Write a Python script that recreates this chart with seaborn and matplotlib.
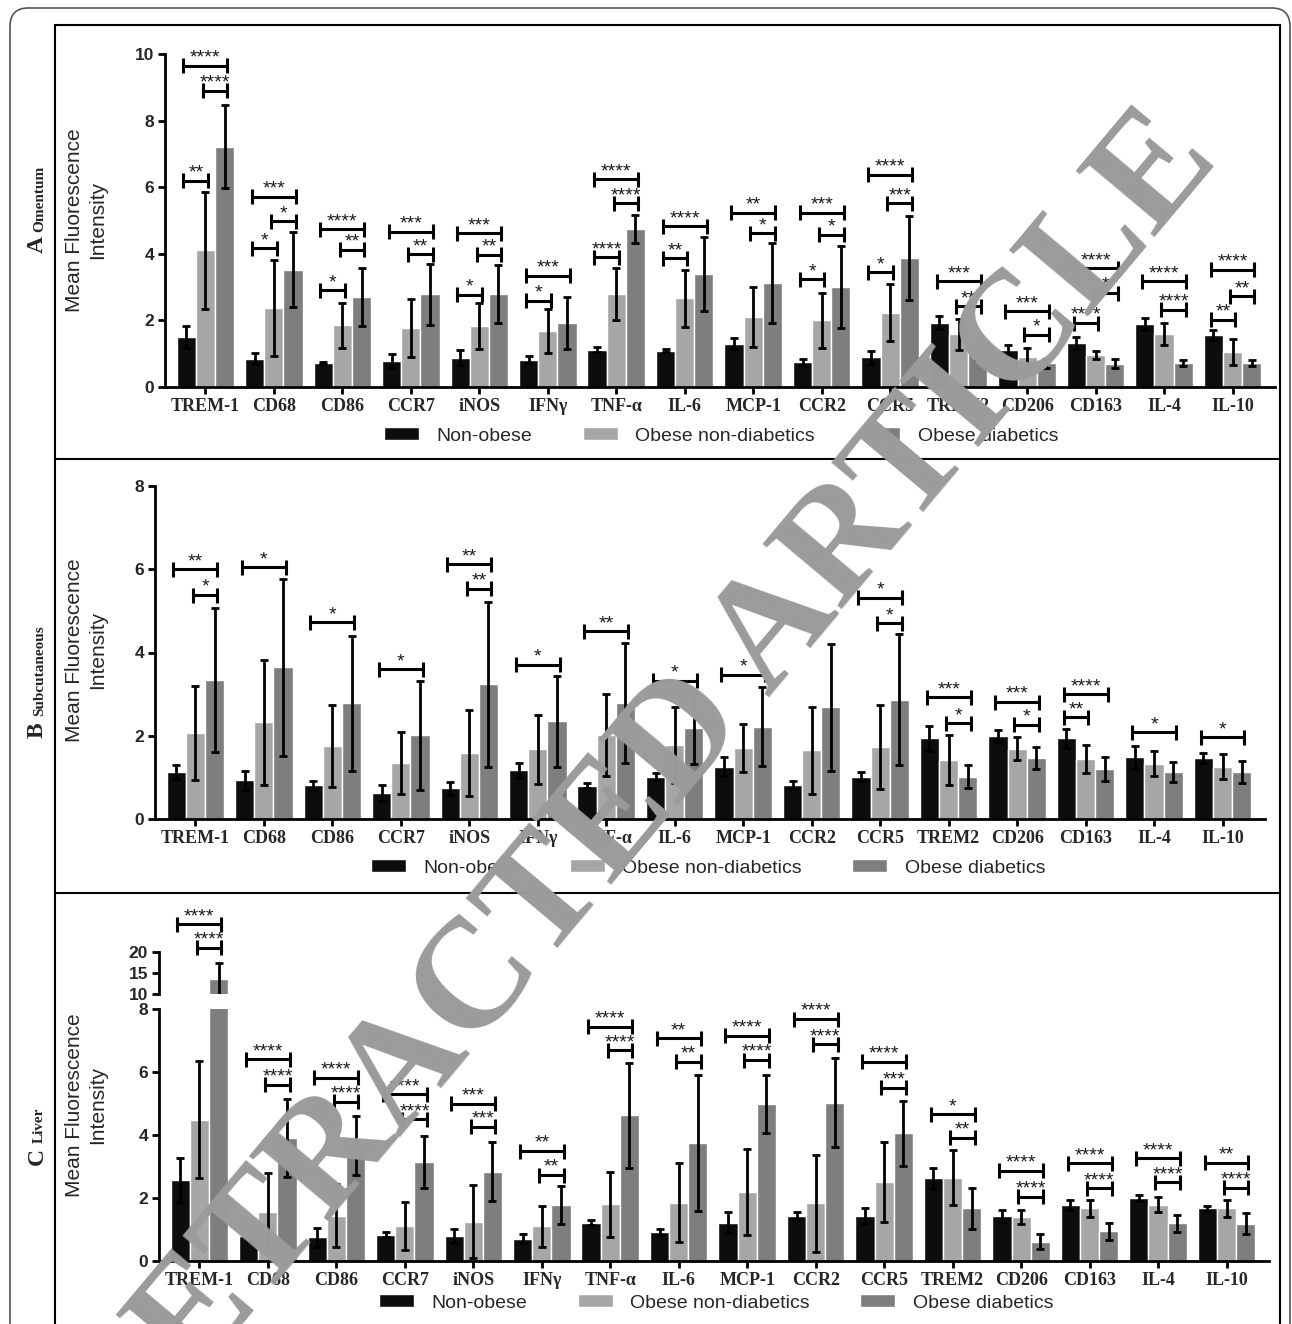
import numpy as np
import pandas as pd
import matplotlib
matplotlib.use("Agg")
import matplotlib.pyplot as plt
import seaborn as sns
from matplotlib.lines import Line2D
from matplotlib.patches import FancyBboxPatch
from matplotlib import font_manager

# ---------------- data ----------------
markers = ["TREM-1", "CD68", "CD86", "CCR7", "iNOS", "IFNγ", "TNF-α", "IL-6",
           "MCP-1", "CCR2", "CCR5", "TREM2", "CD206", "CD163", "IL-4", "IL-10"]
groups = ["Non-obese", "Obese non-diabetics", "Obese diabetics"]

# A  Omentum
om_non = [1.50, 0.85, 0.72, 0.78, 0.88, 0.82, 1.12, 1.09, 1.30, 0.74, 0.89, 1.93, 1.10, 1.32, 1.89, 1.55]
om_non_err = [0.32, 0.17, 0.04, 0.20, 0.22, 0.10, 0.07, 0.05, 0.17, 0.10, 0.19, 0.19, 0.15, 0.17, 0.18, 0.15]
om_ond = [4.10, 2.37, 1.85, 1.78, 1.83, 1.68, 2.78, 2.66, 2.10, 2.00, 2.23, 1.58, 0.90, 0.97, 1.60, 1.05]
om_ond_err = [1.75, 1.43, 0.67, 0.87, 0.70, 0.65, 0.78, 0.85, 0.90, 0.83, 0.86, 0.46, 0.28, 0.12, 0.33, 0.40]
om_od = [7.22, 3.52, 2.70, 2.78, 2.80, 1.92, 4.75, 3.39, 3.11, 3.00, 3.88, 1.14, 0.71, 0.70, 0.72, 0.72]
om_od_err = [1.25, 1.13, 0.88, 0.92, 0.87, 0.78, 0.43, 1.10, 1.20, 1.24, 1.26, 0.33, 0.14, 0.13, 0.10, 0.10]

# B  Subcutaneous
sc_non = [1.13, 0.93, 0.81, 0.63, 0.74, 1.17, 0.80, 1.02, 1.26, 0.82, 1.02, 1.94, 1.99, 1.94, 1.48, 1.46]
sc_non_err = [0.17, 0.23, 0.11, 0.19, 0.16, 0.18, 0.06, 0.08, 0.22, 0.09, 0.10, 0.30, 0.15, 0.23, 0.28, 0.12]
sc_ond = [2.06, 2.32, 1.76, 1.34, 1.58, 1.67, 2.02, 1.78, 1.70, 1.65, 1.74, 1.41, 1.69, 1.44, 1.33, 1.26]
sc_ond_err = [1.13, 1.50, 0.98, 0.74, 1.03, 0.84, 0.99, 0.92, 0.58, 1.04, 1.01, 0.60, 0.27, 0.34, 0.30, 0.29]
sc_od = [3.34, 3.64, 2.78, 2.01, 3.24, 2.35, 2.78, 2.18, 2.22, 2.68, 2.87, 1.02, 1.47, 1.20, 1.14, 1.13]
sc_od_err = [1.74, 2.13, 1.62, 1.31, 1.98, 1.09, 1.44, 0.86, 0.95, 1.53, 1.58, 0.27, 0.26, 0.29, 0.24, 0.26]

# C  Liver
lv_non = [2.57, 0.79, 0.75, 0.84, 0.79, 0.71, 1.22, 0.93, 1.22, 1.43, 1.43, 2.62, 1.43, 1.78, 1.99, 1.67]
lv_non_err = [0.71, 0.19, 0.30, 0.08, 0.23, 0.14, 0.08, 0.10, 0.33, 0.12, 0.24, 0.34, 0.18, 0.15, 0.10, 0.08]
lv_ond = [4.49, 1.57, 1.44, 1.11, 1.25, 1.11, 1.80, 1.85, 2.19, 1.83, 2.51, 2.65, 1.39, 1.67, 1.79, 1.67]
lv_ond_err = [1.85, 1.22, 0.99, 0.75, 1.17, 0.65, 1.04, 1.26, 1.37, 1.53, 1.27, 0.86, 0.23, 0.26, 0.24, 0.26]
lv_od = [13.6, 3.90, 3.66, 3.15, 2.84, 1.78, 4.62, 3.74, 4.99, 5.03, 4.05, 1.67, 0.61, 0.95, 1.20, 1.19]
lv_od_err = [3.9, 1.24, 0.93, 0.83, 0.94, 0.59, 1.67, 2.15, 0.93, 1.40, 1.02, 0.66, 0.24, 0.27, 0.27, 0.34]

# significance annotations: (marker, comparison, bracket height, label)
om_sig = [
    ("TREM-1", "NO-OND", 6.2, "**"), ("TREM-1", "NO-OD", 9.64, "****"), ("TREM-1", "OND-OD", 8.89, "****"),
    ("CD68", "NO-OND", 4.17, "*"), ("CD68", "NO-OD", 5.72, "***"), ("CD68", "OND-OD", 4.97, "*"),
    ("CD86", "NO-OND", 2.9, "*"), ("CD86", "NO-OD", 4.74, "****"), ("CD86", "OND-OD", 4.12, "**"),
    ("CCR7", "NO-OD", 4.66, "***"), ("CCR7", "OND-OD", 3.99, "**"),
    ("iNOS", "NO-OND", 2.77, "*"), ("iNOS", "NO-OD", 4.62, "***"), ("iNOS", "OND-OD", 3.97, "**"),
    ("IFNγ", "NO-OND", 2.59, "*"), ("IFNγ", "NO-OD", 3.34, "***"),
    ("TNF-α", "NO-OND", 3.9, "****"), ("TNF-α", "NO-OD", 6.24, "****"), ("TNF-α", "OND-OD", 5.52, "****"),
    ("IL-6", "NO-OND", 3.87, "**"), ("IL-6", "NO-OD", 4.82, "****"),
    ("MCP-1", "NO-OD", 5.24, "**"), ("MCP-1", "OND-OD", 4.62, "*"),
    ("CCR2", "NO-OND", 3.24, "*"), ("CCR2", "NO-OD", 5.24, "***"), ("CCR2", "OND-OD", 4.57, "*"),
    ("CCR5", "NO-OND", 3.44, "*"), ("CCR5", "NO-OD", 6.37, "****"), ("CCR5", "OND-OD", 5.52, "***"),
    ("TREM2", "NO-OD", 3.17, "***"), ("TREM2", "OND-OD", 2.42, "**"),
    ("CD206", "NO-OD", 2.27, "***"), ("CD206", "OND-OD", 1.57, "*"),
    ("CD163", "NO-OND", 1.92, "****"), ("CD163", "NO-OD", 3.57, "****"), ("CD163", "OND-OD", 2.82, "*"),
    ("IL-4", "NO-OD", 3.17, "****"), ("IL-4", "OND-OD", 2.32, "****"),
    ("IL-10", "NO-OND", 2.02, "**"), ("IL-10", "NO-OD", 3.52, "****"), ("IL-10", "OND-OD", 2.72, "**"),
]
sc_sig = [
    ("TREM-1", "NO-OD", 6.0, "**"), ("TREM-1", "OND-OD", 5.38, "*"),
    ("CD68", "NO-OD", 6.05, "*"),
    ("CD86", "NO-OD", 4.73, "*"),
    ("CCR7", "NO-OD", 3.6, "*"),
    ("iNOS", "NO-OD", 6.12, "**"), ("iNOS", "OND-OD", 5.53, "**"),
    ("IFNγ", "NO-OD", 3.71, "*"),
    ("TNF-α", "NO-OD", 4.51, "**"),
    ("IL-6", "NO-OD", 3.32, "*"),
    ("MCP-1", "NO-OD", 3.46, "*"),
    ("CCR5", "NO-OD", 5.32, "*"), ("CCR5", "OND-OD", 4.7, "*"),
    ("TREM2", "NO-OD", 2.92, "***"), ("TREM2", "OND-OD", 2.3, "*"),
    ("CD206", "NO-OD", 2.81, "***"), ("CD206", "OND-OD", 2.26, "*"),
    ("CD163", "NO-OND", 2.44, "**"), ("CD163", "NO-OD", 3.0, "****"),
    ("IL-4", "NO-OD", 2.08, "*"),
    ("IL-10", "NO-OD", 1.96, "*"),
]
lv_sig = [
    ("TREM-1", "NO-OD", 26.7, "****"), ("TREM-1", "OND-OD", 21.1, "****"),
    ("CD68", "NO-OD", 6.4, "****"), ("CD68", "OND-OD", 5.6, "****"),
    ("CD86", "NO-OD", 5.82, "****"), ("CD86", "OND-OD", 5.06, "****"),
    ("CCR7", "NO-OD", 5.29, "****"), ("CCR7", "OND-OD", 4.5, "****"),
    ("iNOS", "NO-OD", 5.0, "***"), ("iNOS", "OND-OD", 4.26, "***"),
    ("IFNγ", "NO-OD", 3.49, "**"), ("IFNγ", "OND-OD", 2.73, "**"),
    ("TNF-α", "NO-OD", 7.44, "****"), ("TNF-α", "OND-OD", 6.69, "****"),
    ("IL-6", "NO-OD", 7.07, "**"), ("IL-6", "OND-OD", 6.33, "**"),
    ("MCP-1", "NO-OD", 7.15, "****"), ("MCP-1", "OND-OD", 6.38, "****"),
    ("CCR2", "NO-OD", 7.68, "****"), ("CCR2", "OND-OD", 6.88, "****"),
    ("CCR5", "NO-OD", 6.33, "****"), ("CCR5", "OND-OD", 5.5, "***"),
    ("TREM2", "NO-OD", 4.66, "*"), ("TREM2", "OND-OD", 3.92, "**"),
    ("CD206", "NO-OD", 2.86, "****"), ("CD206", "OND-OD", 2.04, "****"),
    ("CD163", "NO-OD", 3.1, "****"), ("CD163", "OND-OD", 2.31, "****"),
    ("IL-4", "NO-OD", 3.26, "****"), ("IL-4", "OND-OD", 2.5, "****"),
    ("IL-10", "NO-OD", 3.12, "**"), ("IL-10", "OND-OD", 2.33, "****"),
]

# ---------------- style ----------------
sns.set_style("ticks")
plt.rcParams["font.family"] = ["Liberation Sans", "DejaVu Sans"]
plt.rcParams["axes.linewidth"] = 2
plt.rcParams["axes.edgecolor"] = "black"


def has_font(name):
    try:
        font_manager.findfont(font_manager.FontProperties(family=name), fallback_to_default=False)
        return True
    except Exception:
        return False


NARROW = "Liberation Sans Narrow" if has_font("Liberation Sans Narrow") else "Liberation Sans"
SERIF = ["Liberation Serif", "DejaVu Serif"]

W, H = 1292, 1324
fig = plt.figure(figsize=(W / 100, H / 100), dpi=100)


def rect(l, t, r, b):
    return [l / W, 1 - b / H, (r - l) / W, (b - t) / H]


palette = dict(zip(groups, ["#0d0d0d", "#a6a6a6", "#7e7e7e"]))
XLIM = (-0.59, 15.62)
pair_idx = {"NO-OND": (0, 1), "NO-OD": (0, 2), "OND-OD": (1, 2)}


def make_df(means):
    rows = []
    for g, m in zip(groups, means):
        for mk, v in zip(markers, m):
            rows.append((mk, g, v))
    return pd.DataFrame(rows, columns=["marker", "group", "value"])


def bars_with_errors(ax, means, errs):
    df = make_df(means)
    sns.barplot(data=df, x="marker", y="value", hue="group", order=markers,
                hue_order=groups, palette=palette, width=0.84, gap=0,
                errorbar=None, saturation=1, edgecolor="white", linewidth=1,
                legend=False, ax=ax)
    conts = list(ax.containers[:3])
    centers = []
    for cont, m, e in zip(conts, means, errs):
        xs = np.array([p.get_x() + p.get_width() / 2 for p in cont])
        centers.append(xs)
        ax.errorbar(xs, m, yerr=e, fmt="none", ecolor="black", elinewidth=2,
                    capsize=3, capthick=2, zorder=3)
    return conts, centers


def style_axes(ax, ylim, yticks):
    ax.set_xlim(XLIM)
    ax.set_ylim(ylim)
    ax.set_yticks(yticks)
    ax.set_xlabel("")
    ax.tick_params(width=2, length=5, color="black", pad=3)
    for lbl in ax.get_xticklabels():
        lbl.set(family=SERIF, weight="bold", size=13)
    for lbl in ax.get_yticklabels():
        lbl.set(family="Liberation Sans", weight="bold", size=12.5)


def set_ylabel(ax, ycenter_px, left_px, top_px, bottom_px):
    ax.set_ylabel("Mean Fluorescence\nIntensity", family=NARROW, size=15, linespacing=1.3)
    ax.yaxis.label.set(ha="center", va="center", rotation_mode="default")
    xf = (86 - left_px) / 1110.0
    yf = (bottom_px - ycenter_px) / (bottom_px - top_px)
    ax.yaxis.set_label_coords(xf, yf)


def draw_sig(ax, centers, sig, ylim, height_px, half_px=7.5):
    dy = half_px * (ylim[1] - ylim[0]) / height_px
    for mk, pair, y, lab in sig:
        i = markers.index(mk)
        a, b = pair_idx[pair]
        x1 = centers[a][i] - 0.04
        x2 = centers[b][i] + 0.04
        kw = dict(color="black", lw=2.2, clip_on=False, solid_capstyle="butt", zorder=4)
        ax.plot([x1, x2], [y, y], **kw)
        ax.plot([x1, x1], [y - dy, y + dy], **kw)
        ax.plot([x2, x2], [y - dy, y + dy], **kw)
        ax.annotate(lab, ((x1 + x2) / 2, y), xytext=(0, 5.5), textcoords="offset points",
                    ha="center", va="center", fontsize=14, color="#1a1a1a",
                    annotation_clip=False, zorder=4)


def legend(handles, cx, cy):
    fig.legend(handles, groups, loc="center", bbox_to_anchor=(cx / W, 1 - cy / H),
               ncol=3, frameon=False, fontsize=14, handlelength=1.8, handleheight=0.6,
               handletextpad=0.9, columnspacing=2.6)


# ---------------- Panel A ----------------
axA = fig.add_axes(rect(165, 54, 1275, 387))
contsA, cA = bars_with_errors(axA, [om_non, om_ond, om_od], [om_non_err, om_ond_err, om_od_err])
draw_sig(axA, cA, om_sig, (0, 10), 333)
sns.despine(ax=axA)
style_axes(axA, (0, 10), [0, 2, 4, 6, 8, 10])
set_ylabel(axA, 220, 165, 54, 387)
legend([c.patches[0] for c in contsA], 721, 436)

# ---------------- Panel B ----------------
axB = fig.add_axes(rect(155, 486, 1265, 819))
contsB, cB = bars_with_errors(axB, [sc_non, sc_ond, sc_od], [sc_non_err, sc_ond_err, sc_od_err])
draw_sig(axB, cB, sc_sig, (0, 8), 333)
sns.despine(ax=axB)
style_axes(axB, (0, 8), [0, 2, 4, 6, 8])
set_ylabel(axB, 650, 155, 486, 819)
legend([c.patches[0] for c in contsB], 708, 868)

# ---------------- Panel C (broken axis) ----------------
axCl = fig.add_axes(rect(159, 1009, 1269, 1261))
axCu = fig.add_axes(rect(159, 914.5, 1269, 994.3))
lv_means = [lv_non, lv_ond, lv_od]
lv_errs = [lv_non_err, lv_ond_err, lv_od_err]
contsC, cC = bars_with_errors(axCl, lv_means, lv_errs)
_, cCu = bars_with_errors(axCu, lv_means, lv_errs)
draw_sig(axCl, cC, [s for s in lv_sig if s[2] < 10], (0, 8), 252)
draw_sig(axCu, cCu, [s for s in lv_sig if s[2] >= 10], (10, 29), 80)
sns.despine(ax=axCl)
style_axes(axCl, (0, 8), [0, 2, 4, 6, 8])
set_ylabel(axCl, 1105, 159, 1009, 1261)
sns.despine(ax=axCu, bottom=True)
style_axes(axCu, (10, 29), [10, 15, 20])
axCu.spines["left"].set_bounds(10, 20)
axCu.tick_params(axis="x", bottom=False, labelbottom=False)
axCu.set_ylabel("")
legend([c.patches[0] for c in contsC], 716, 1303)

# ---------------- frame ----------------
fig.add_artist(FancyBboxPatch((10 / W, 1 - 1345 / H), 1280 / W, 1337 / H,
                              boxstyle="round,pad=0,rounding_size=0.014",
                              transform=fig.transFigure, fill=False, ec="#555555", lw=1.2))


def fline(x1, y1, x2, y2, lw=1.5):
    fig.add_artist(Line2D([x1 / W, x2 / W], [1 - y1 / H, 1 - y2 / H],
                          transform=fig.transFigure, color="black", lw=lw))


fline(55, 25, 1280, 25)
fline(55, 25, 55, 1324)
fline(1280, 25, 1280, 1324)
fline(55, 459, 1280, 459)
fline(55, 893, 1280, 893)

# panel labels
for big, small, yb, ys in [("A", "Omentum", 253, 232), ("B", "Subcutaneous", 738, 716),
                           ("C", "Liver", 1165, 1143)]:
    fig.text(43 / W, 1 - yb / H, big, rotation=90, rotation_mode="anchor", ha="left",
             va="baseline", family=SERIF, weight="bold", size=17)
    fig.text(43 / W, 1 - ys / H, small, rotation=90, rotation_mode="anchor", ha="left",
             va="baseline", family=SERIF, weight="bold", size=11)

# watermark
fig.text(642 / W, 1 - 790 / H, "RETRACTED ARTICLE", rotation=50, rotation_mode="anchor",
         ha="center", va="center", fontsize=112, family=SERIF, weight="bold",
         color="#9b9b9b", zorder=100)

fig.savefig("out.png", dpi=100)
